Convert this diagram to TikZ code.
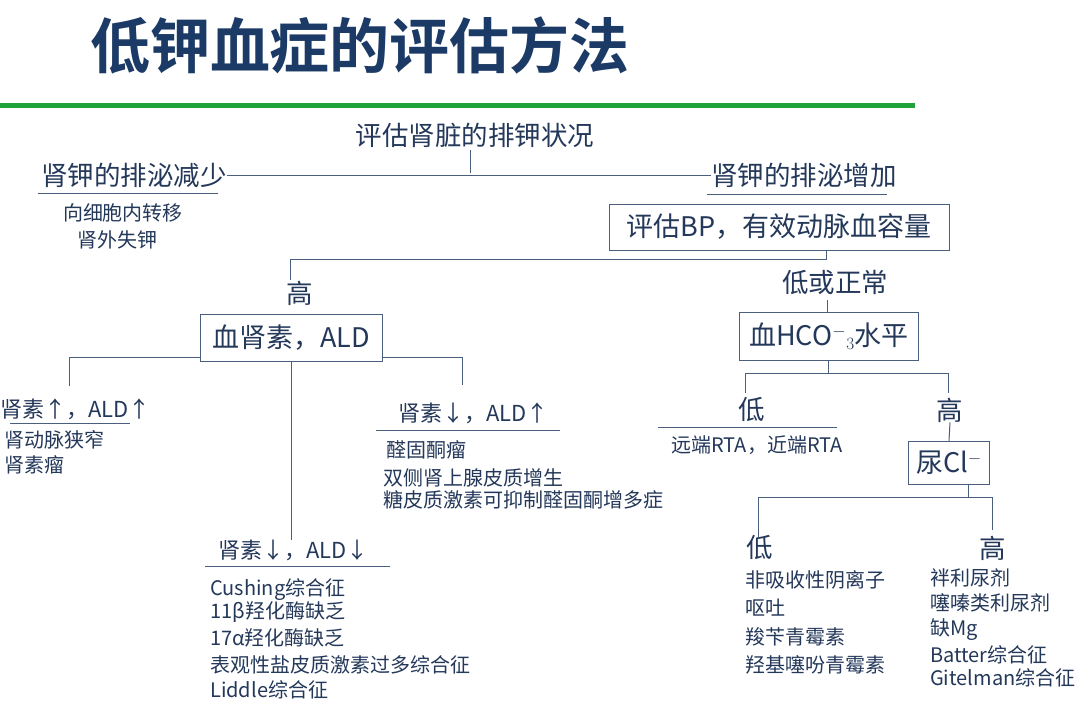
\documentclass[tikz,border=0pt]{standalone}
\usepackage{fontspec}
\setmainfont{Noto Sans CJK SC}
\newfontfamily\cjkb{Noto Sans CJK SC Bold}
\definecolor{txt}{HTML}{24385A}
\definecolor{ln}{HTML}{4A5F7E}
\definecolor{ttl}{HTML}{1B3A66}
\definecolor{grn}{HTML}{1FA33A}
\begin{document}
\begin{tikzpicture}[x=1pt,y=-1pt,
  every node/.style={text=txt,inner sep=0pt},
  big/.style={font=\fontsize{26.5}{29}\selectfont},
  mid/.style={font=\fontsize{22}{25}\selectfont},
  sml/.style={font=\fontsize{20}{23}\selectfont},
  bx/.style={draw=ln,line width=1pt,inner xsep=10pt,inner ysep=7pt,font=\fontsize{27}{30}\selectfont},
  ul/.style={draw=ln,line width=1pt},
  con/.style={draw=ln,line width=1pt}]
\useasboundingbox (0,0) rectangle (1080,705);
\fill[white] (0,0) rectangle (1080,705);
\node[font=\cjkb\fontsize{60}{64}\selectfont,text=ttl] (title) at (360,45) {低钾血症的评估方法};
\draw[grn,line width=5pt] (0,105) -- (915,105);
\node[big] (root) at (475,135) {评估肾脏的排钾状况};
\node[big] (dec) at (134,175) {肾钾的排泌减少};
\node[big] (inc) at (804,175) {肾钾的排泌增加};
\coordinate (j1) at (470,173);
\draw[con] (470,150) -- (j1);
\draw[con] (dec.east) -- (inc.west);
\draw[ul] (38,193) -- (218,193);
\draw[ul] (707,194) -- (887,194);
\node[sml] (d1) at (123,213) {向细胞内转移};
\node[sml] (d2) at (117,240) {肾外失钾};
\node[bx,minimum width=340pt,minimum height=46pt] (bp) at (779,227) {评估BP，有效动脉血容量};
\coordinate (j2) at (826,259);
\coordinate (j3) at (290,259);
\draw[con] (bp.south -| j2) -- (j2) -- (j3) -- (290,280);
\node[big] (hi) at (300,293) {高};
\node[big] (lo) at (835,282) {低或正常};
\node[bx,minimum width=182pt,minimum height=47pt] (ren) at (291,338) {血肾素，ALD};
\node[bx,minimum width=172pt,minimum height=48pt] (hco) at (829,336) {血HCO$^{-}$$_{3}$水平};
\draw[con] (827,300) -- (hco.north -| 827,0);
\draw[con] (ren.west |- 0,357) -- (69,357) -- (69,386);
\draw[con] (ren.east |- 0,357) -- (462,357) -- (462,385);
\draw[con] (ren.south) -- (291,540);
\node[mid,anchor=west] (a1) at (0,409) {肾素↑，ALD↑};
\draw[ul] (10,423) -- (130,423);
\node[sml,anchor=west] (a2) at (4,440) {肾动脉狭窄};
\node[sml,anchor=west] (a3) at (4,465) {肾素瘤};
\node[mid,anchor=west] (b1) at (398,413) {肾素↓，ALD↑};
\draw[ul] (376,430) -- (560,430);
\node[sml,anchor=west] (b2) at (386,450) {醛固酮瘤};
\node[sml,anchor=west] (b3) at (383,478) {双侧肾上腺皮质增生};
\node[sml,anchor=west] (b4) at (383,500) {糖皮质激素可抑制醛固酮增多症};
\node[mid,anchor=west] (c1) at (218,550) {肾素↓，ALD↓};
\draw[ul] (205,566) -- (390,566);
\node[sml,anchor=west] (c2) at (210,590) {Cushing综合征};
\node[sml,anchor=west] (c3) at (210,612) {11β羟化酶缺乏};
\node[sml,anchor=west] (c4) at (210,638) {17α羟化酶缺乏};
\node[sml,anchor=west] (c5) at (210,665) {表观性盐皮质激素过多综合征};
\node[sml,anchor=west] (c6) at (210,690) {Liddle综合征};
\draw[con] (hco.south -| 828,0) -- (828,373);
\draw[con] (745,373) -- (948,373);
\draw[con] (745,373) -- (745,393);
\draw[con] (948,373) -- (948,393);
\node[big] (l2) at (752,410) {低};
\draw[ul] (658,427) -- (837,427);
\node[sml] (rta) at (757,445) {远端RTA，近端RTA};
\node[big] (h2) at (950,410) {高};
\node[bx,inner xsep=8pt,minimum height=43pt] (cl) at (949,463) {尿Cl$^{-}$};
\draw[con] (h2.south) -- (cl.north);
\draw[con] (cl.south -| 968,0) -- (968,497);
\draw[con] (758,497) -- (992,497);
\draw[con] (758,497) -- (758,537);
\draw[con] (992,497) -- (992,530);
\node[big] (l3) at (760,548) {低};
\node[big] (h3) at (993,548) {高};
\node[sml,anchor=west] (e1) at (745,580) {非吸收性阴离子};
\node[sml,anchor=west] (e2) at (745,608) {呕吐};
\node[sml,anchor=west] (e3) at (745,637) {羧苄青霉素};
\node[sml,anchor=west] (e4) at (745,665) {羟基噻吩青霉素};
\node[sml,anchor=west] (f1) at (930,578) {袢利尿剂};
\node[sml,anchor=west] (f2) at (930,603) {噻嗪类利尿剂};
\node[sml,anchor=west] (f3) at (930,630) {缺Mg};
\node[sml,anchor=west] (f4) at (930,655) {Batter综合征};
\node[sml,anchor=west] (f5) at (930,678) {Gitelman综合征};
\end{tikzpicture}
\end{document}
